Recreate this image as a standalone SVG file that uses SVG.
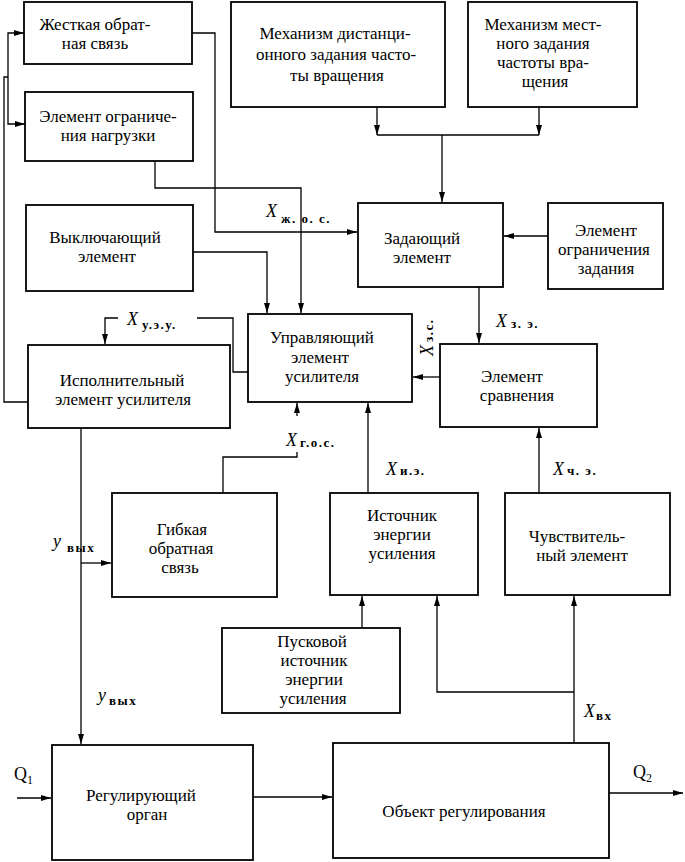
<svg xmlns="http://www.w3.org/2000/svg" width="685" height="862" viewBox="0 0 685 862">
<defs>
<marker id="ah" viewBox="0 0 10 6" refX="10" refY="3" markerWidth="10" markerHeight="6" markerUnits="userSpaceOnUse" orient="auto">
<path d="M0,0 L10,3 L0,6 z" fill="#000"/>
</marker>
<style>
.box{fill:#fff;stroke:#000;stroke-width:1.8}
.t{font-family:"Liberation Serif","DejaVu Serif",serif;font-size:17px;fill:#000;text-anchor:middle}
.c{fill:none;stroke:#000;stroke-width:1.3}
.a{marker-end:url(#ah)}
.lx{font-family:"Liberation Serif","DejaVu Serif",serif;font-size:18px;font-style:italic;fill:#000}
.ls{font-family:"Liberation Serif","DejaVu Serif",serif;font-size:13px;font-weight:bold;font-style:normal;letter-spacing:1.5px}
.q{font-family:"Liberation Serif","DejaVu Serif",serif;font-size:18px;fill:#000}
</style>
</defs>
<rect width="685" height="862" fill="#fff"/>

<g id="connectors">
<path class="c" d="M28,402 H4 V77 H8"/>
<path class="c a" d="M8,77 V33 H24"/>
<path class="c a" d="M8,77 V124 H25"/>
<path class="c a" d="M192,33 H215 V232 H357"/>
<path class="c a" d="M155,161 V188 H301 V313"/>
<path class="c a" d="M193,252 H267 V313"/>
<path class="c a" d="M377,107 V135"/>
<path class="c a" d="M539,107 V135"/>
<path class="c" d="M377,135 H539"/>
<path class="c a" d="M442,135 V202"/>
<path class="c a" d="M548,236 H504"/>
<path class="c a" d="M479,287 V343"/>
<path class="c a" d="M440,377 H413"/>
<path class="c" d="M248,372 H233 V318 H197"/>
<path class="c a" d="M118,318 H105 V344"/>
<path class="c" d="M223,493 V457 H297 V452"/>
<path class="c a" d="M297,416 V403"/>
<path class="c a" d="M368,493 V403"/>
<path class="c a" d="M539,493 V428"/>
<path class="c a" d="M81,428 V744"/>
<path class="c a" d="M81,563 H111"/>
<path class="c a" d="M362,628 V596"/>
<path class="c a" d="M574,743 V596"/>
<path class="c a" d="M574,692 H437 V596"/>
<path class="c a" d="M253,797 H332"/>
<path class="c a" d="M17,798 H51"/>
<path class="c a" d="M609,793 H683"/>
</g>

<g id="n-zhestkaya"><rect class="box" x="24" y="2" width="168" height="62"/>
<text class="t" x="95" y="30">Жесткая обрат-</text><text class="t" x="95" y="49">ная связь</text></g>

<g id="n-ogr-nagruzki"><rect class="box" x="25" y="92" width="168" height="69"/>
<text class="t" x="108" y="122">Элемент ограниче-</text><text class="t" x="108" y="141">ния нагрузки</text></g>

<g id="n-mech-dist"><rect class="box" x="231" y="2" width="214" height="105"/>
<text class="t" x="335" y="39">Механизм дистанци-</text><text class="t" x="336" y="60">онного задания часто-</text><text class="t" x="337" y="81">ты вращения</text></g>

<g id="n-mech-mest"><rect class="box" x="468" y="2" width="169" height="105"/>
<text class="t" x="543" y="30">Механизм мест-</text><text class="t" x="543" y="49">ного задания</text><text class="t" x="543" y="68">частоты вра-</text><text class="t" x="545" y="87">щения</text></g>

<g id="n-vykl"><rect class="box" x="26" y="205" width="167" height="86"/>
<text class="t" x="105" y="243">Выключающий</text><text class="t" x="107" y="262">элемент</text></g>

<g id="n-zad"><rect class="box" x="358" y="203" width="145" height="84"/>
<text class="t" x="422" y="244">Задающий</text><text class="t" x="422" y="263">элемент</text></g>

<g id="n-ogr-zad"><rect class="box" x="548" y="203" width="115" height="86"/>
<text class="t" x="606" y="236">Элемент</text><text class="t" x="604" y="255">ограничения</text><text class="t" x="606" y="274">задания</text></g>

<g id="n-upr"><rect class="box" x="248" y="314" width="164" height="88"/>
<text class="t" x="322" y="343">Управляющий</text><text class="t" x="320" y="363">элемент</text><text class="t" x="322" y="382">усилителя</text></g>

<g id="n-ispol"><rect class="box" x="28" y="345" width="202" height="83"/>
<text class="t" x="122" y="386">Исполнительный</text><text class="t" x="123" y="405">элемент усилителя</text></g>

<g id="n-sravn"><rect class="box" x="440" y="344" width="157" height="83"/>
<text class="t" x="512" y="382">Элемент</text><text class="t" x="517" y="401">сравнения</text></g>

<g id="n-gib"><rect class="box" x="112" y="493" width="165" height="104"/>
<text class="t" x="182" y="535">Гибкая</text><text class="t" x="181" y="554">обратная</text><text class="t" x="180" y="573">связь</text></g>

<g id="n-ist"><rect class="box" x="330" y="493" width="148" height="102"/>
<text class="t" x="402" y="521">Источник</text><text class="t" x="402" y="540">энергии</text><text class="t" x="402" y="559">усиления</text></g>

<g id="n-chuv"><rect class="box" x="505" y="493" width="165" height="102"/>
<text class="t" x="577" y="542">Чувствитель-</text><text class="t" x="582" y="561">ный элемент</text></g>

<g id="n-pusk"><rect class="box" x="222" y="628" width="178" height="85"/>
<text class="t" x="312" y="647">Пусковой</text><text class="t" x="314" y="666">источник</text><text class="t" x="314" y="685">энергии</text><text class="t" x="313" y="704">усиления</text></g>

<g id="n-reg"><rect class="box" x="52" y="745" width="201" height="115"/>
<text class="t" x="141" y="801">Регулирующий</text><text class="t" x="147" y="820">орган</text></g>

<g id="n-obj"><rect class="box" x="333" y="743" width="276" height="115"/>
<text class="t" x="464" y="817">Объект регулирования</text></g>

<g id="labels">
<text class="lx" x="266" y="217">X<tspan class="ls" dx="4" dy="6">ж. о. с.</tspan></text>
<text class="lx" x="127" y="325">X<tspan class="ls" dx="4" dy="4">у.э.у.</tspan></text>
<text class="lx" x="496" y="327">X<tspan class="ls" dx="4" dy="1">з. э.</tspan></text>
<text class="lx" transform="translate(433,356) rotate(-90)" x="0" y="0">X<tspan class="ls" dx="3" dy="0">з.с.</tspan></text>
<text class="lx" x="286" y="446">X<tspan class="ls" dx="3" dy="1">г.о.с.</tspan></text>
<text class="lx" x="386" y="475">X<tspan class="ls" dx="3" dy="0">и.э.</tspan></text>
<text class="lx" x="553" y="475">X<tspan class="ls" dx="3" dy="0">ч. э.</tspan></text>
<text class="lx" x="584" y="717">X<tspan class="ls" dx="1" dy="3">вх</tspan></text>
<text class="lx" x="53" y="547">y<tspan class="ls" dx="6" dy="5">вых</tspan></text>
<text class="lx" x="98" y="701">y<tspan class="ls" dx="3" dy="4">вых</tspan></text>
<text class="q" x="14" y="780">Q<tspan font-size="12" dy="4">1</tspan></text>
<text class="q" x="633" y="778">Q<tspan font-size="12" dy="4">2</tspan></text>
</g>
</svg>
